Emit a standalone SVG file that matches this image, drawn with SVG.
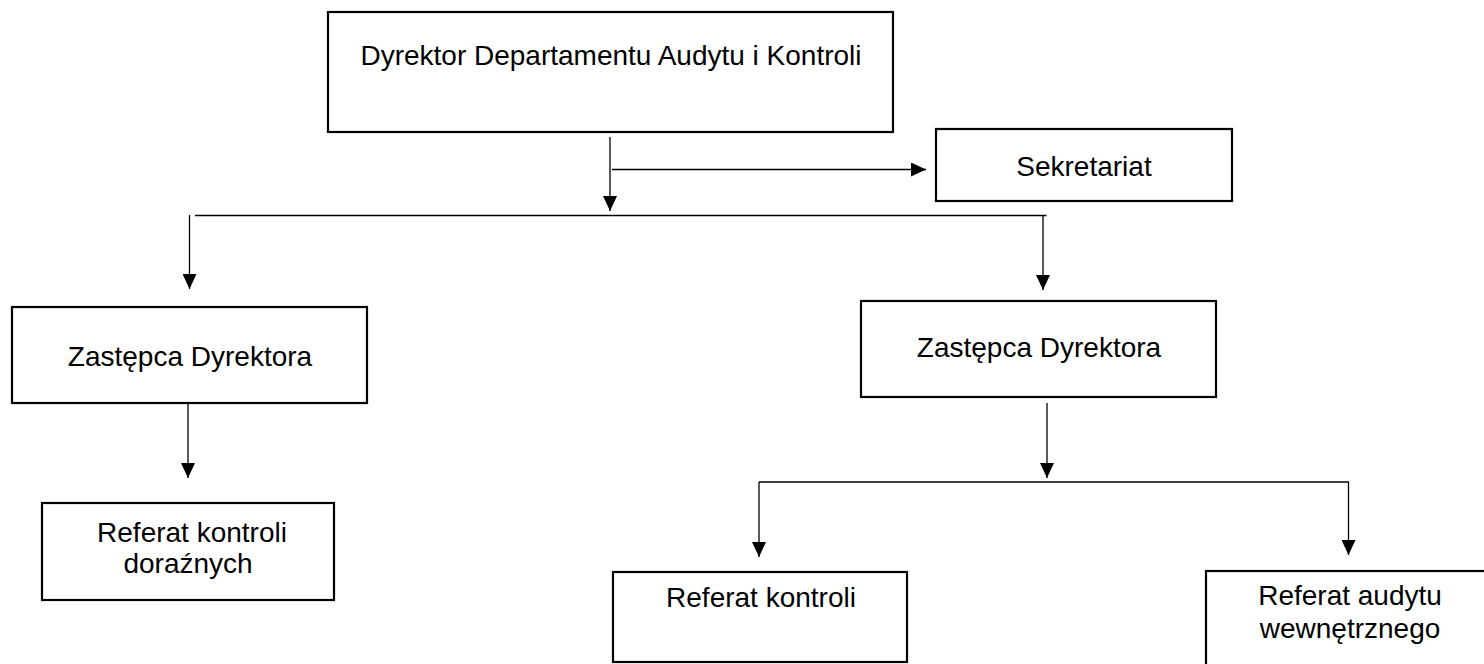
<svg xmlns="http://www.w3.org/2000/svg" width="1484" height="664" viewBox="0 0 1484 664">
<style>
.box{fill:#fff;stroke:#000;stroke-width:2.2}
.t{font-family:"Liberation Sans",Arial,sans-serif;font-size:28px;fill:#000;text-anchor:middle}
.c{fill:none;stroke:#000;stroke-width:1.3}
.a{marker-end:url(#arr)}
</style>
<defs>
<marker id="arr" markerUnits="userSpaceOnUse" markerWidth="15" markerHeight="14" refX="15" refY="7" orient="auto">
<path d="M0,0 L15,7 L0,14 z" fill="#000"/>
</marker>
</defs>
<rect width="1484" height="664" fill="#fff"/>
<g id="connectors">
<path class="c a" d="M610,137 V211"/>
<path class="c a" d="M612,169.5 H926"/>
<path class="c" d="M195,215.5 H1046.5"/>
<path class="c a" d="M189.5,215 V289"/>
<path class="c a" d="M1043,216 V290"/>
<path class="c a" d="M188,404 V478"/>
<path class="c a" d="M1047,403 V478"/>
<path class="c" d="M759,482 H1349"/>
<path class="c a" d="M759,482 V557"/>
<path class="c a" d="M1348.5,482 V555"/>
</g>
<g id="dyrektor">
<rect class="box" x="328" y="12" width="565" height="120"/>
<text class="t" x="611" y="65">Dyrektor Departamentu Audytu i Kontroli</text>
</g>
<g id="sekretariat">
<rect class="box" x="936" y="129" width="296" height="72"/>
<text class="t" x="1084" y="176">Sekretariat</text>
</g>
<g id="zastepca-lewy">
<rect class="box" x="12" y="307" width="355" height="96"/>
<text class="t" x="190" y="366">Zastępca Dyrektora</text>
</g>
<g id="zastepca-prawy">
<rect class="box" x="861" y="301" width="355" height="96"/>
<text class="t" x="1039" y="357">Zastępca Dyrektora</text>
</g>
<g id="referat-doraznych">
<rect class="box" x="42" y="503" width="292" height="97"/>
<text class="t" x="192" y="542">Referat kontroli</text>
<text class="t" x="188" y="573">doraźnych</text>
</g>
<g id="referat-kontroli">
<rect class="box" x="613" y="572" width="294" height="90"/>
<text class="t" x="761" y="607">Referat kontroli</text>
</g>
<g id="referat-audytu">
<rect class="box" x="1206" y="571" width="300" height="120"/>
<text class="t" x="1350" y="605">Referat audytu</text>
<text class="t" x="1350" y="638">wewnętrznego</text>
</g>
</svg>
